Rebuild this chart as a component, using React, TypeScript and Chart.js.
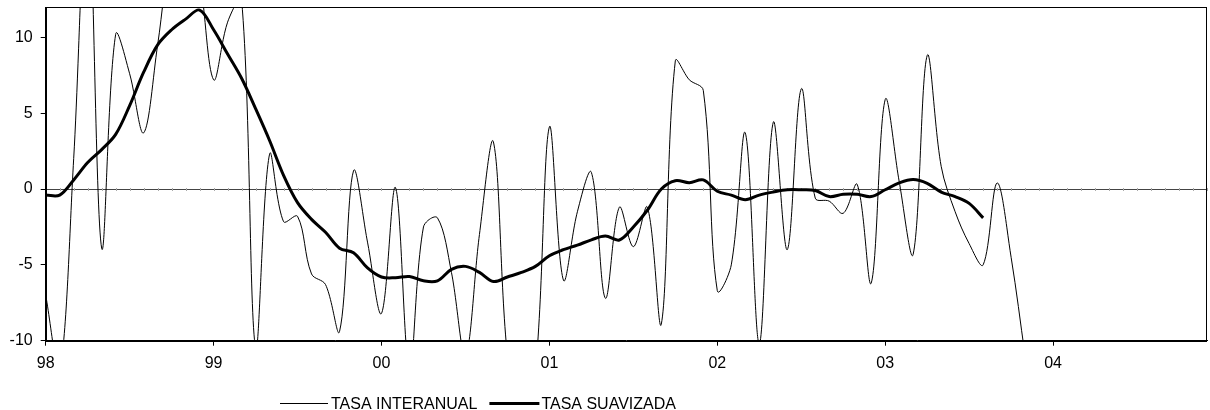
import { useEffect, useRef } from 'react';
import { Chart, registerables } from 'chart.js';

Chart.register(...registerables);

const YEARS = ['98', '99', '00', '01', '02', '03', '04'];
const MONTHS = ['01', '02', '03', '04', '05', '06', '07', '08', '09', '10', '11', '12'];
const CATEGORIES = YEARS.flatMap((y) => MONTHS.map((m) => `${y}-${m}`));

const Y_TICKS = [-10, -5, 0, 5, 10];

const SERIES_LABELS = ['TASA INTERANUAL', 'TASA SUAVIZADA'];

// Monthly values, Jan-98 onward
const TASA_INTERANUAL = [
  -7.0, -12.0, 2.0, 20.0, -3.9, 10.2, 7.6, 3.7, 9.5, 16.0, 18.0, 14.0,
  7.2, 11.0, 12.5, -10.5, 2.3, -2.15, -1.8, -5.6, -6.3, -9.4, 1.2, -3.5,
  -8.2, 0.1, -12.0, -2.5, -1.9, -5.5, -11.0, -3.0, 3.1, -11.0, -15.0, -12.0,
  4.1, -6.0, -1.5, 1.1, -7.2, -1.2, -3.8, -1.2, -8.9, 8.45, 7.2, 6.5,
  -6.7, -5.0, 3.7, -10.2, 4.4, -4.0, 6.6, -0.6, -0.8, -1.6, 0.3, -6.2,
  5.9, 0.5, -4.3, 8.8, 1.5, -1.5, -3.6, -5.0, 0.4, -4.5, -11.0,
];

const TASA_SUAVIZADA = [
  -0.4, -0.4, 0.6, 1.75, 2.6, 3.6, 5.5, 7.7, 9.5, 10.5, 11.2, 11.8,
  10.5, 8.9, 7.3, 5.3, 3.2, 0.9, -0.9, -2.0, -2.85, -3.9, -4.2, -5.2,
  -5.8, -5.85, -5.77, -6.05, -6.05, -5.3, -5.1, -5.5, -6.1, -5.8, -5.5, -5.1,
  -4.4, -4.0, -3.7, -3.35, -3.1, -3.36, -2.5, -1.4, 0.0, 0.55, 0.42, 0.6,
  -0.15, -0.4, -0.7, -0.4, -0.2, -0.05, -0.05, -0.1, -0.5, -0.35, -0.35, -0.5,
  -0.05, 0.4, 0.62, 0.37, -0.2, -0.5, -0.95, -1.9,
];

const FONT_FAMILY = '"Liberation Sans", Arial, sans-serif';

const framePlugin = {
  id: 'frameAndLegend',
  beforeDatasetsDraw(chart: any) {
    const { ctx, scales } = chart;
    const xs = scales.x;
    const ys = scales.y;
    const y0 = Math.round(ys.getPixelForValue(0)) + 0.5;
    ctx.save();
    ctx.strokeStyle = '#aaa';
    ctx.lineWidth = 1;
    ctx.beginPath();
    const n = chart.data.labels.length;
    for (let i = 1; i < n; i++) {
      const px = Math.round(xs.getPixelForValue(i)) + 0.5;
      ctx.moveTo(px, y0 - 1.5);
      ctx.lineTo(px, y0 + 1.5);
    }
    ctx.stroke();
    ctx.restore();
  },
  afterDraw(chart: any) {
    const { ctx, chartArea } = chart;
    ctx.save();
    ctx.strokeStyle = '#000';
    ctx.lineWidth = 1;
    const l = Math.round(chartArea.left) + 0.5;
    const t = Math.round(chartArea.top) + 0.5;
    const r = Math.round(chartArea.right) - 0.5;
    const b = Math.round(chartArea.bottom) + 0.5;
    ctx.strokeRect(l, t, r - l, b - t);

    // legend
    ctx.font = `16px ${FONT_FAMILY}`;
    ctx.fillStyle = '#000';
    ctx.textBaseline = 'middle';
    ctx.textAlign = 'left';
    const ly = 403.5;
    let x = 280;
    const sets = chart.data.datasets;
    const lineLens = [48, 50];
    const gaps = [3, 2];
    sets.forEach((ds: any, i: number) => {
      ctx.beginPath();
      ctx.lineWidth = ds.borderWidth;
      ctx.strokeStyle = ds.borderColor;
      ctx.moveTo(x, ly);
      ctx.lineTo(x + lineLens[i], ly);
      ctx.stroke();
      x += lineLens[i] + gaps[i];
      ctx.fillText(ds.label, x, ly + 1);
      x += ctx.measureText(ds.label).width + 12;
    });
    ctx.restore();
  },
};

export default function App() {
  const canvasRef = useRef<HTMLCanvasElement | null>(null);

  useEffect(() => {
    document.body.style.margin = '0';
    const canvas = canvasRef.current;
    if (!canvas) return;
    const chart = new Chart(canvas, {
      type: 'line',
      data: {
        labels: CATEGORIES,
        datasets: [
          {
            label: SERIES_LABELS[0],
            data: TASA_INTERANUAL,
            borderColor: '#000',
            borderWidth: 1,
            pointRadius: 0,
            tension: 0.35,
            fill: false,
          },
          {
            label: SERIES_LABELS[1],
            data: TASA_SUAVIZADA,
            borderColor: '#000',
            borderWidth: 3,
            pointRadius: 0,
            tension: 0.35,
            fill: false,
          },
        ],
      },
      options: {
        animation: false,
        responsive: true,
        maintainAspectRatio: false,
        devicePixelRatio: 1,
        layout: { padding: { left: 0, right: 3, top: 7, bottom: 39.3 } },
        plugins: {
          legend: { display: false },
          tooltip: { enabled: false },
          title: { display: false },
        },
        scales: {
          x: {
            type: 'category',
            offset: false,
            border: { display: true, color: '#000', width: 1 },
            grid: {
              drawOnChartArea: false,
              drawTicks: true,
              tickLength: 5,
              color: (c: any) => (c.index % 12 === 0 ? '#000' : 'rgba(0,0,0,0)'),
            },
            ticks: {
              autoSkip: false,
              maxRotation: 0,
              minRotation: 0,
              padding: 8,
              color: '#000',
              font: { family: FONT_FAMILY, size: 16 },
              callback: (_v: any, i: number) => (i % 12 === 0 ? CATEGORIES[i].slice(0, 2) : ''),
            },
            afterFit: (s: any) => {
              s.height = 30;
              s.paddingLeft = 0;
              s.paddingRight = 0;
            },
          },
          y: {
            min: -10,
            max: 12,
            border: { display: true, color: '#000', width: 1 },
            grid: {
              drawOnChartArea: true,
              drawTicks: true,
              tickLength: 5,
              tickColor: '#000',
              color: (c: any) => (c.tick && c.tick.value === 0 ? '#444' : 'rgba(0,0,0,0)'),
            },
            ticks: {
              stepSize: 5,
              padding: 8,
              color: '#000',
              font: { family: FONT_FAMILY, size: 16 },
            },
            afterBuildTicks: (s: any) => {
              s.ticks = Y_TICKS.map((v) => ({ value: v }));
            },
            afterFit: (s: any) => {
              s.width = 45.7;
              s.paddingTop = 0;
              s.paddingBottom = 0;
            },
          },
        },
      },
      plugins: [framePlugin],
    });
    return () => chart.destroy();
  }, []);

  return (
    <div style={{ width: 1210, height: 410, position: 'relative' }}>
      <canvas ref={canvasRef} />
    </div>
  );
}
